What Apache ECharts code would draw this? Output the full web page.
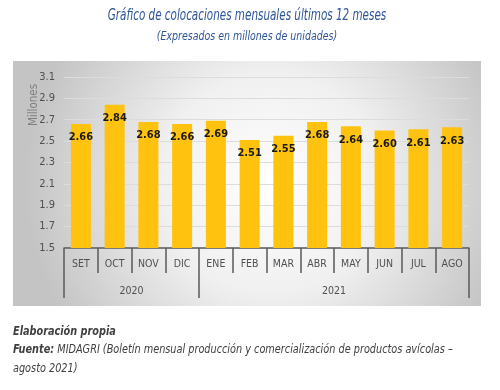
<!DOCTYPE html>
<html><head><meta charset="utf-8">
<script src="https://cdn.jsdelivr.net/npm/echarts@6/dist/echarts.min.js"></script>
<style>html,body{margin:0;padding:0;background:#fff}#c{width:500px;height:390px}</style>
</head><body><div id="c"></div>
<script>
const months = ['SET','OCT','NOV','DIC','ENE','FEB','MAR','ABR','MAY','JUN','JUL','AGO'];
const values = [2.66,2.84,2.68,2.66,2.69,2.51,2.55,2.68,2.64,2.60,2.61,2.63];
const years = ['2020','2021'];
const yearBounds = [0,4,12];
const yearCenters = [2,8];
const titleText = 'Gráfico de colocaciones mensuales últimos 12 meses';
const subtitleText = '(Expresados en millones de unidades)';
const axisName = 'Millones';

const F = "'DejaVu Sans Condensed','Liberation Sans Narrow',sans-serif";
const chart = echarts.init(document.getElementById('c'), null, {renderer:'canvas'});
chart.setOption({
  animation:false,
  backgroundColor:'#fff',
  graphic:[
    {type:'rect', z:-10, shape:{x:13,y:61,width:468,height:245},
     style:{fill:{type:'radial', x:0.55, y:0.5, r:1.0, colorStops:[{offset:0,color:'#ffffff'},{offset:0.45,color:'#f0f0f0'},{offset:1,color:'#c4c4c4'}]}}},
    {type:'text', x:247, y:16, scaleX:0.77, z:5,
     style:{text:titleText, fill:'#2E5597', font:"italic 15px "+F, align:'center', verticalAlign:'middle'}},
    {type:'text', x:247, y:37, scaleX:0.84, z:5,
     style:{text:subtitleText, fill:'#2E5597', font:"italic 12.5px "+F, align:'center', verticalAlign:'middle'}},
    {type:'text', x:34, y:105, rotation:Math.PI/2, z:5,
     style:{text:axisName, fill:'#7f7f7f', font:"11.5px "+F, align:'center', verticalAlign:'middle'}},
    {type:'text', x:13, y:332, scaleX:0.9, style:{text:'Elaboración propia', fill:'#404040', font:"italic bold 12px "+F, verticalAlign:'middle'}},
    {type:'text', x:13, y:350, scaleX:0.9, style:{rich:{b:{fontFamily:F,fontSize:12,fontStyle:'italic',fontWeight:'bold',fill:'#404040'},n:{fontFamily:F,fontSize:12,fontStyle:'italic',fill:'#404040'}}, text:'{b|Fuente:}{n| MIDAGRI (Boletín mensual producción y comercialización de productos avícolas –}', verticalAlign:'middle'}},
    {type:'text', x:13, y:369, scaleX:0.9, style:{text:'agosto 2021)', fill:'#404040', font:"italic 12px "+F, verticalAlign:'middle'}}
  ],
  grid:{left:64, right:31, top:77, bottom:142},
  xAxis:[
    {type:'category', data:months, position:'bottom',
     axisLine:{show:true, lineStyle:{color:'#595959', width:1.5}},
     axisTick:{show:true, interval:0, length:25, lineStyle:{color:'#595959', width:1.5}},
     axisLabel:{interval:0, margin:11, fontFamily:F, fontSize:10.5, color:'#505050'}},
    {type:'value', min:0, max:12, position:'bottom', offset:25,
     axisLine:{show:false}, splitLine:{show:false},
     axisTick:{show:true, customValues:yearBounds, length:25, lineStyle:{color:'#595959', width:1.5}},
     axisLabel:{customValues:yearCenters, margin:13, fontFamily:F, fontSize:10.5, color:'#505050',
       formatter:v=>years[yearCenters.indexOf(v)]}}
  ],
  yAxis:{type:'value', min:1.5, max:3.1, interval:0.2,
    axisLine:{show:false}, axisTick:{show:false},
    splitLine:{lineStyle:{color:'#dcdcdc', width:1}},
    axisLabel:{margin:9, fontFamily:F, fontSize:11, color:'#505050', formatter:v=>v.toFixed(1)}},
  series:[{type:'bar', data:values, xAxisIndex:0, barWidth:20,
    itemStyle:{color:'#FFC20E'},
    label:{show:true, position:'insideTop', distance:8, fontFamily:F, fontWeight:'bold', fontSize:11, color:'#1a1a1a', formatter:p=>p.value.toFixed(2)}}]
});
</script></body></html>
